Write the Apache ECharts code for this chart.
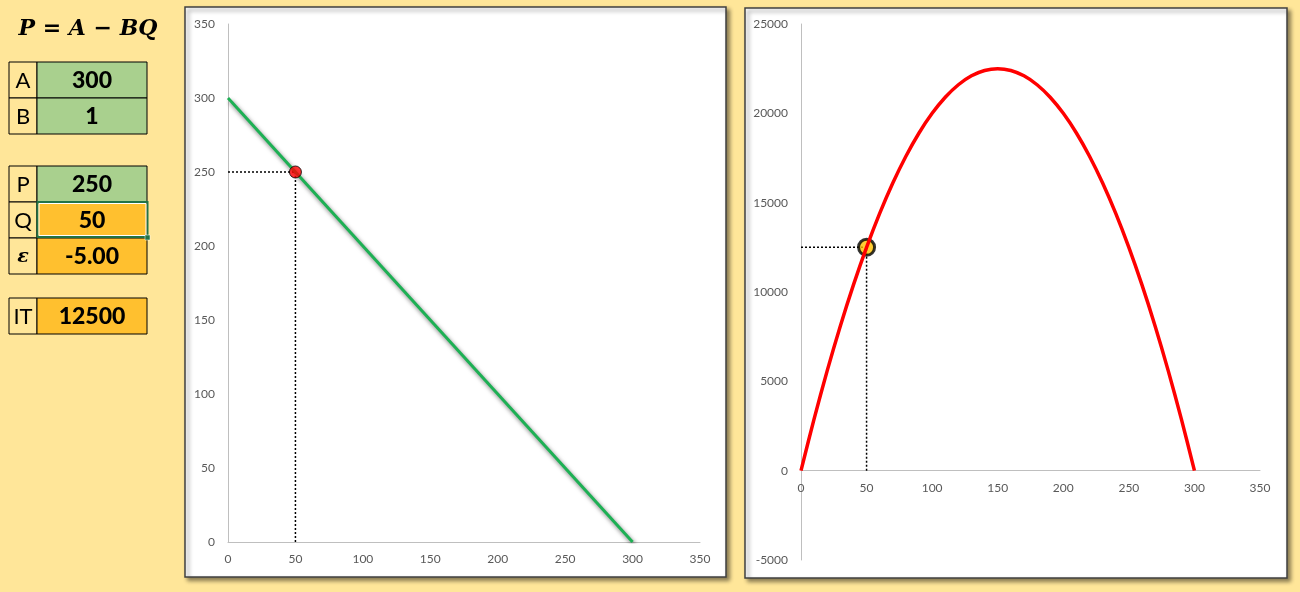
<!DOCTYPE html>
<html>
<head>
<meta charset="utf-8">
<script src="https://cdn.jsdelivr.net/npm/echarts@6/dist/echarts.min.js"></script>
<style>
html,body{margin:0;padding:0;background:#FFE699;}
#c{width:1300px;height:592px;}
</style>
</head>
<body>
<div id="c"></div>
<script>
// ---- data ----
const paramLabels = ['A', 'B'];
const paramValues = ['300', '1'];
const stateLabels = ['P', 'Q', 'ε'];
const stateValues = ['250', '50', '-5.00'];
const revLabel = 'IT';
const revValue = '12500';

const demandQ = [0, 300];
const demandP = [300, 0];

const revenueQ = [0,10,20,30,40,50,60,70,80,90,100,110,120,130,140,150,160,170,180,190,200,210,220,230,240,250,260,270,280,290,300];
const revenueIT = [0,2900,5600,8100,10400,12500,14400,16100,17600,18900,20000,20900,21600,22100,22400,22500,22400,22100,21600,20900,20000,18900,17600,16100,14400,12500,10400,8100,5600,2900,0];

const pointQ = 50;
const pointP = 250;
const pointIT = 12500;

const xTickMax = 350, xTickStep = 50;
const yPMax = 350, yPStep = 50;
const yITMin = -5000, yITMax = 25000, yITStep = 5000;

// ---- build ----
const labelFont = 'Lato, "Liberation Sans", sans-serif';
const gfx = [];
function cell(x, y, w, h, fill, text, bold, font) {
  gfx.push({type:'rect', shape:{x:x, y:y, width:w, height:h}, style:{fill:fill, stroke:'#000', lineWidth:1}, z:1});
  gfx.push({type:'text', x:x + w/2, y:y + h/2 + 1, style:{text:text, fill:'#000', font:font || ((bold ? '900 23px ' : '22px ') + labelFont), align:'center', verticalAlign:'middle'}, z:2});
}
function rowGroup(labels, values, fills, top) {
  labels.forEach((l, i) => {
    const y = top + i * 36;
    cell(9, y, 28, 36, '#FFE699', l, false, l === 'ε' ? 'bold italic 19px "DejaVu Serif", serif' : undefined);
    cell(37, y, 110, 36, fills[i], values[i], true);
  });
}
gfx.push({type:'text', x:88, y:29, style:{text:'P = A − BQ', fill:'#000', font:'bold italic 22px "DejaVu Serif", "Liberation Serif", serif', align:'center', verticalAlign:'middle'}, z:2});
rowGroup(paramLabels, paramValues, ['#A9D08E', '#A9D08E'], 62);
rowGroup(stateLabels, stateValues, ['#A9D08E', '#FFC02F', '#FFC02F'], 166);
rowGroup([revLabel], [revValue], ['#FFC02F'], 298);
// selection box on Q
gfx.push({type:'rect', shape:{x:37.5, y:202, width:110, height:35}, style:{fill:'none', stroke:'#217346', lineWidth:2}, z:3});
gfx.push({type:'rect', shape:{x:39, y:203.5, width:107, height:32}, style:{fill:'none', stroke:'#fff', lineWidth:1}, z:3});
gfx.push({type:'rect', shape:{x:145, y:235, width:5, height:5}, style:{fill:'#217346', stroke:'#fff', lineWidth:0.5}, z:4});

// chart frames
[[185, 7, 541, 570], [745, 8, 542, 570]].forEach(f => {
  gfx.push({type:'rect', shape:{x:f[0], y:f[1], width:f[2], height:f[3]}, style:{fill:'#fff', stroke:'#404040', lineWidth:1.5, shadowColor:'rgba(0,0,0,0.45)', shadowBlur:4, shadowOffsetX:3, shadowOffsetY:3}, z:-10});
});

const axisLabel = {color:'#595959', fontSize:12, fontFamily:labelFont, formatter: v => String(v)};
const axisLine = {show:true, lineStyle:{color:'#BFBFBF', width:1}};
const dotted = {color:'#000', width:1.5, type:[2, 2]};
const grid1H = 536;
const zeroOffset = grid1H * (0 - yITMin) / (yITMax - yITMin);

const option = {
  animation:false,
  backgroundColor:'#FFE699',
  graphic:gfx,
  grid:[
    {left:228, top:24, width:472, height:518},
    {left:801, top:24, width:459, height:grid1H}
  ],
  xAxis:[
    {type:'value', gridIndex:0, min:0, max:xTickMax, interval:xTickStep, axisLine:axisLine, axisTick:{show:false}, splitLine:{show:false}, axisLabel:Object.assign({margin:11}, axisLabel)},
    {type:'value', gridIndex:1, min:0, max:xTickMax, interval:xTickStep, offset:-zeroOffset, axisLine:Object.assign({onZero:false}, axisLine), axisTick:{show:false}, splitLine:{show:false}, axisLabel:Object.assign({margin:11}, axisLabel)}
  ],
  yAxis:[
    {type:'value', gridIndex:0, min:0, max:yPMax, interval:yPStep, axisLine:axisLine, axisTick:{show:false}, splitLine:{show:false}, axisLabel:Object.assign({margin:13}, axisLabel)},
    {type:'value', gridIndex:1, min:yITMin, max:yITMax, interval:yITStep, axisLine:Object.assign({onZero:false}, axisLine), axisTick:{show:false}, splitLine:{show:false}, axisLabel:Object.assign({margin:13}, axisLabel)}
  ],
  series:[
    {type:'line', xAxisIndex:0, yAxisIndex:0, data:demandQ.map((q, i) => [q, demandP[i]]), symbol:'none',
      lineStyle:{color:'#1DB054', width:3, shadowColor:'rgba(0,0,0,0.55)', shadowBlur:4, shadowOffsetX:2, shadowOffsetY:3}, z:3},
    {type:'line', xAxisIndex:0, yAxisIndex:0, data:[[0, pointP], [pointQ, pointP]], symbol:'none', lineStyle:dotted, z:2},
    {type:'line', xAxisIndex:0, yAxisIndex:0, data:[[pointQ, 0], [pointQ, pointP]], symbol:'none', lineStyle:dotted, z:2},
    {type:'scatter', xAxisIndex:0, yAxisIndex:0, data:[[pointQ, pointP]], symbol:'circle', symbolSize:12,
      itemStyle:{color:'#FF0000', borderColor:'#000', borderWidth:1}, z:5},

    {type:'line', xAxisIndex:1, yAxisIndex:1, data:revenueQ.map((q, i) => [q, revenueIT[i]]), symbol:'none', smooth:0.3,
      lineStyle:{color:'#FF0000', width:3.5}, z:4},
    {type:'line', xAxisIndex:1, yAxisIndex:1, data:[[0, pointIT], [pointQ, pointIT]], symbol:'none', lineStyle:dotted, z:2},
    {type:'line', xAxisIndex:1, yAxisIndex:1, data:[[pointQ, 0], [pointQ, pointIT]], symbol:'none', lineStyle:dotted, z:2},
    {type:'scatter', xAxisIndex:1, yAxisIndex:1, data:[[pointQ, pointIT]], symbol:'circle', symbolSize:16,
      itemStyle:{color:'#FFC000', borderColor:'#000', borderWidth:3}, z:3}
  ]
};
const chart = echarts.init(document.getElementById('c'), null, {renderer:'canvas'});
chart.setOption(option);
</script>
</body>
</html>
